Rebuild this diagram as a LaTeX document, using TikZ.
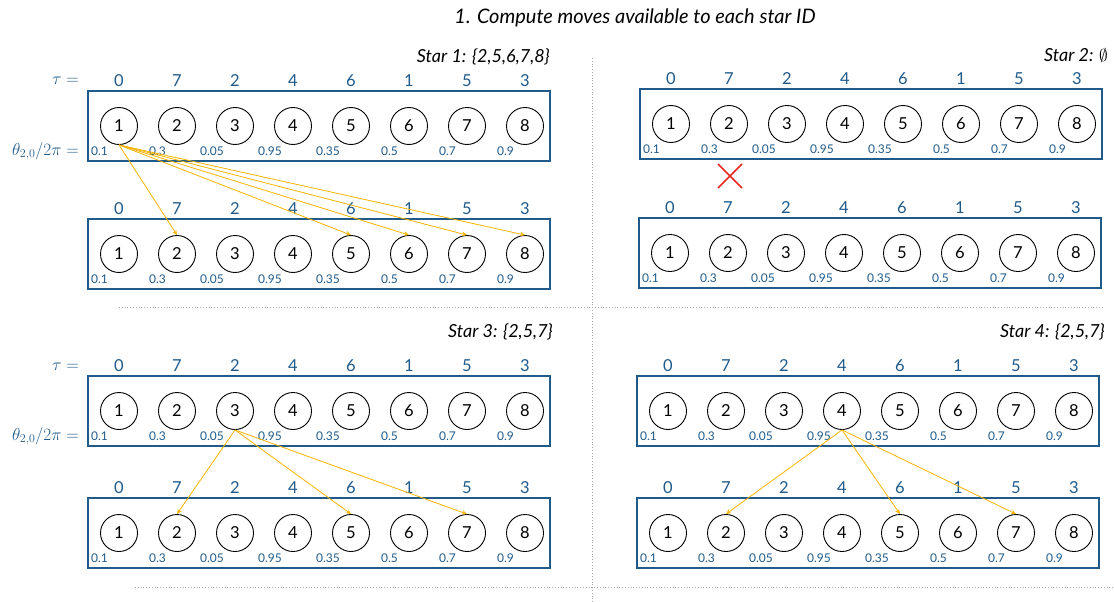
\documentclass[tikz,border=0pt]{standalone}
\usepackage{fontspec}
\setmainfont{Lato}
\usetikzlibrary{arrows.meta}
\definecolor{boxblue}{HTML}{1F5A8A}
\definecolor{arrowc}{HTML}{F5B400}
\definecolor{xred}{HTML}{E8281E}
\tikzset{
  boxline/.style={draw=boxblue, line width=1.8pt},
  idcirc/.style={circle, draw=black, line width=0.9pt, minimum size=37pt, inner sep=0pt, font=\fontsize{16.5}{16.5}\selectfont},
  taulab/.style={text=boxblue, inner sep=0pt, font=\fontsize{16.5}{16.5}\selectfont},
  thlab/.style={anchor=east, text=boxblue, inner sep=0pt, font=\fontsize{12}{12}\selectfont},
  mathlab/.style={anchor=east, text=boxblue, inner sep=0pt, font=\fontsize{17}{17}\selectfont},
  starlab/.style={anchor=east, inner sep=0pt, font=\fontsize{18}{18}\selectfont\itshape},
  arr/.style={draw=arrowc, line width=0.8pt, -{Stealth[length=5pt,width=4.5pt]}},
  sep/.style={draw=gray!70, line width=0.8pt, dotted},
  cross/.style={draw=xred, line width=1.6pt}
}
\newcommand{\starrow}[3]{%
  \draw[boxline] (#2-31,#3-35) rectangle (#2+431,#3+35);
  \foreach \i/\t/\th in {1/0/0.1,2/7/0.3,3/2/0.05,4/4/0.95,5/6/0.35,6/1/0.5,7/5/0.7,8/3/0.9}{
    \node[idcirc] (#1\i) at ({#2+58*(\i-1)},#3) {\i};
    \node[taulab] (#1t\i) at ({#2+58*(\i-1)},#3-45) {\t};
    \node[thlab] (#1h\i) at ({#2+58*(\i-1)-11},#3+25) {\th};
  }%
}
\begin{document}
\begin{tikzpicture}[x=1pt,y=-1pt]
\useasboundingbox (0,0) rectangle (1114,602);
% title
\node[inner sep=0pt, font=\fontsize{20}{20}\selectfont\itshape] (title) at (635,18) {1. Compute moves available to each star ID};
% separators
\coordinate (v1) at (592,58); \coordinate (v2) at (592,602);
\coordinate (h1) at (119,307); \coordinate (h2) at (1103,307);
\coordinate (h3) at (135,587); \coordinate (h4) at (1114,587);
\draw[sep] (v1) -- (v2);
\draw[sep] (h1) -- (h2);
\draw[sep] (h3) -- (h4);
% panel 1
\node[starlab] (s1) at (550,57) {Star 1: \{2,5,6,7,8\}};
\node[mathlab] (tau1) at (79,81) {$\tau =$};
\node[mathlab] (th1) at (79,151) {$\theta_{2,0}/2\pi =$};
\starrow{pa}{119}{126}
\starrow{pb}{119}{254}
\foreach \j in {2,5,6,7,8} \draw[arr] (pa1.south) -- (pb\j.north);
% panel 2
\node[starlab] (s2) at (1108,55) {Star 2: $\emptyset$};
\starrow{qa}{671}{124}
\starrow{qb}{670}{253}
\coordinate (xc) at (730,176);
\draw[cross] ([shift={(-12,-12)}]xc) -- ([shift={(12,12)}]xc);
\draw[cross] ([shift={(-12,12)}]xc) -- ([shift={(12,-12)}]xc);
% panel 3
\node[starlab] (s3) at (553,332) {Star 3: \{2,5,7\}};
\node[mathlab] (tau3) at (79,367) {$\tau =$};
\node[mathlab] (th3) at (79,436) {$\theta_{2,0}/2\pi =$};
\starrow{ra}{119}{411}
\starrow{rb}{119}{533}
\foreach \j in {2,5,7} \draw[arr] (ra3.south) -- (rb\j.north);
% panel 4
\node[starlab] (s4) at (1105,332) {Star 4: \{2,5,7\}};
\starrow{sa}{668}{411}
\starrow{sb}{668}{533}
\foreach \j in {2,5,7} \draw[arr] (sa4.south) -- (sb\j.north);
\end{tikzpicture}
\end{document}
